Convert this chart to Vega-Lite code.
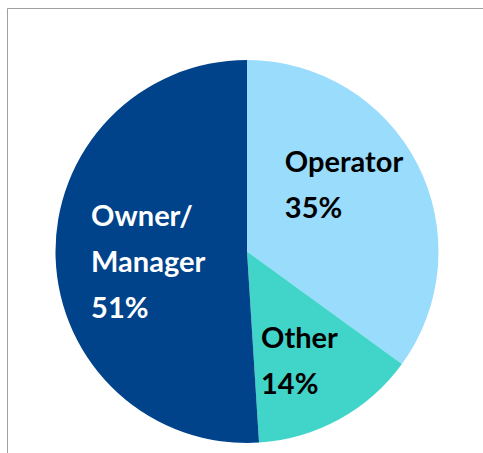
{
  "$schema": "https://vega.github.io/schema/vega-lite/v6.json",
  "width": 476,
  "height": 445,
  "autosize": "none",
  "padding": {"left": 7, "top": 8, "right": 0, "bottom": 0},
  "background": "white",
  "view": {"stroke": "#a0a0a0", "strokeWidth": 1, "strokeDash": [476, 921, 445]},
  "data": {
    "values": [
      {"cat": "Operator", "value": 35, "label": ["Operator", "35%"], "rank": 1},
      {"cat": "Other", "value": 14, "label": ["Other", "14%"], "rank": 2},
      {"cat": "Owner/Manager", "value": 51, "label": ["Owner/", "Manager", "51%"], "rank": 3}
    ]
  },
  "encoding": {
    "theta": {"field": "value", "type": "quantitative", "stack": true},
    "order": {"field": "rank", "type": "quantitative"}
  },
  "layer": [
    {
      "mark": {"type": "arc", "radius": 191.5, "yOffset": 21, "xOffset": 2},
      "encoding": {
        "color": {
          "field": "cat", "type": "nominal", "legend": null,
          "scale": {"domain": ["Operator", "Other", "Owner/Manager"], "range": ["#99dcfc", "#41d4c8", "#00438a"]}
        }
      }
    },
    {
      "mark": {"type": "text", "radius": 156, "align": "left", "baseline": "alphabetic", "font": "Lato", "fontWeight": "bold", "fontSize": 29, "lineHeight": 46, "color": "white", "dx": 2, "dy": -9},
      "encoding": {"text": {"condition": {"test": "datum.cat === 'Owner/Manager'", "field": "label"}, "value": ""}}
    },
    {
      "mark": {"type": "text", "radius": 75, "align": "left", "baseline": "alphabetic", "font": "Lato", "fontWeight": "bold", "fontSize": 29, "lineHeight": 46, "color": "black", "dx": -27, "dy": -24},
      "encoding": {"text": {"condition": {"test": "datum.cat === 'Operator'", "field": "label"}, "value": ""}}
    },
    {
      "mark": {"type": "text", "radius": 110, "align": "left", "baseline": "alphabetic", "font": "Lato", "fontWeight": "bold", "fontSize": 29, "lineHeight": 46, "color": "black", "dx": -37, "dy": 21},
      "encoding": {"text": {"condition": {"test": "datum.cat === 'Other'", "field": "label"}, "value": ""}}
    }
  ]
}
